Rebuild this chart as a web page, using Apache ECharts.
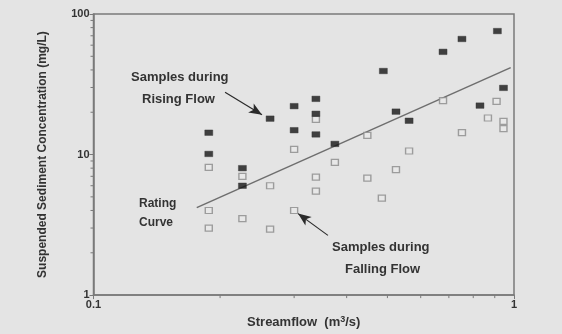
<!DOCTYPE html>
<html><head><meta charset="utf-8">
<script src="https://cdn.jsdelivr.net/npm/echarts@6/dist/echarts.min.js"></script>
<style>html,body{margin:0;padding:0;background:#e4e4e4;}#c{width:562px;height:334px;}</style>
</head><body><div id="c"></div>
<script>
// Samples during rising flow (filled squares): [streamflow m3/s, concentration mg/L]
const risingFlow = [
  [0.188,14.3],[0.188,10.1],[0.226,8.0],[0.226,6.0],[0.263,18.0],
  [0.300,22.1],[0.300,14.9],[0.338,24.9],[0.338,19.5],[0.338,13.9],
  [0.375,11.9],[0.489,39.3],[0.524,20.2],[0.563,17.4],[0.678,53.8],
  [0.752,66.4],[0.830,22.3],[0.913,75.6],[0.944,29.8]
];
// Samples during falling flow (open squares)
const fallingFlow = [
  [0.188,8.1],[0.188,4.0],[0.188,3.0],[0.226,7.0],[0.226,3.5],
  [0.263,6.0],[0.263,2.95],[0.300,10.9],[0.300,4.0],[0.338,17.8],
  [0.338,6.9],[0.338,5.5],[0.375,8.8],[0.448,13.7],[0.448,6.8],
  [0.485,4.9],[0.524,7.8],[0.563,10.6],[0.678,24.2],[0.752,14.3],
  [0.867,18.2],[0.909,23.9],[0.944,17.2],[0.944,15.3]
];
// Rating curve end points
const ratingCurve = [[0.176,4.19],[0.982,41.5]];
// Annotation arrows (data coords): [from, to]
const risingArrow = [[0.2055,27.8],[0.2516,19.2]];
const fallingArrow = [[0.361,2.66],[0.3065,3.80]];
// Minor tick positions
const xMinorTicks = [0.2,0.3,0.4,0.5,0.6,0.7,0.8,0.9];
const yMinorTicks = [2,3,4,5,6,7,8,9,20,30,40,50,60,70,80,90];

const ink = '#333';
const axisCol = '#7a7a7a';
const tickData = xMinorTicks.map(v => [v, 1, 0]).concat(yMinorTicks.map(v => [0.1, v, 1]));

const chart = echarts.init(document.getElementById('c'));
chart.setOption({
  backgroundColor: '#e4e4e4',
  animation: false,
  grid: { left: 93.5, right: 48, top: 14, bottom: 35, show: true, borderColor: axisCol, borderWidth: 1.5, backgroundColor: 'transparent' },
  xAxis: {
    type: 'log', logBase: 10, min: 0.1, max: 1,
    name: '{a|Streamflow  (m}{s|3}{a|/s)}', nameLocation: 'middle', nameGap: 18,
    nameTextStyle: { rich: { a: { fontSize: 13, fontFamily: 'Liberation Sans', fontWeight: 'bold', color: ink }, s: { fontSize: 9, fontFamily: 'Liberation Sans', fontWeight: 'bold', color: ink, verticalAlign: 'top', padding:[0,0,6,0] } } },
    axisLine: { lineStyle: { color: axisCol, width: 1.5 } },
    axisTick: { show: true, length: 4, lineStyle: { color: axisCol } },
    splitLine: { show: false },
    axisLabel: { color: ink, fontSize: 11, fontWeight: 'bold', fontFamily: 'Liberation Sans', margin: 4, formatter: v => (Math.abs(v-0.1)<1e-9 ? '0.1' : String(v)) }
  },
  yAxis: {
    type: 'log', logBase: 10, min: 1, max: 100,
    name: 'Suspended Sediment Concentration (mg/L)', nameLocation: 'middle', nameGap: 45,
    nameTextStyle: { fontSize: 12, fontFamily: 'Liberation Sans', fontWeight: 'bold', color: ink },
    axisLine: { lineStyle: { color: axisCol, width: 1.5 } },
    axisTick: { show: true, length: 4, lineStyle: { color: axisCol } },
    splitLine: { show: false },
    axisLabel: { color: ink, fontSize: 11, fontWeight: 'bold', fontFamily: 'Liberation Sans', margin: 4 }
  },
  series: [
    {
      type: 'custom', silent: true, clip: false, z: 1,
      data: tickData,
      renderItem: (params, api) => {
        const p = api.coord([api.value(0), api.value(1)]);
        const vertical = api.value(2) === 0;
        return { type: 'line', shape: vertical ? { x1: p[0], y1: p[1], x2: p[0], y2: p[1] + 3 } : { x1: p[0] - 3, y1: p[1], x2: p[0], y2: p[1] },
          style: { stroke: axisCol, lineWidth: 1 } };
      }
    },
    {
      type: 'line', data: ratingCurve, symbol: 'none', z: 2,
      lineStyle: { color: '#6e6e6e', width: 1.5 }
    },
    {
      name: 'Falling', type: 'scatter', data: fallingFlow, symbol: 'rect', symbolSize: [7, 6], z: 3,
      itemStyle: { color: '#e8e8e8', borderColor: '#8a8a8a', borderWidth: 1.3 }
    },
    {
      name: 'Rising', type: 'scatter', data: risingFlow, symbol: 'rect', symbolSize: [8, 5.5], z: 4,
      itemStyle: { color: '#151515', borderColor: '#333', borderWidth: 0.5 }
    },
    {
      type: 'line', data: [], z: 5,
      markLine: {
        silent: true, animation: false,
        symbol: ['none', 'arrow'], symbolSize: [8, 13],
        lineStyle: { color: '#2a2a2a', width: 1.2, type: 'solid' },
        label: { show: false },
        data: [
          [{ coord: risingArrow[0] }, { coord: risingArrow[1] }],
          [{ coord: fallingArrow[0] }, { coord: fallingArrow[1] }]
        ]
      }
    }
  ],
  graphic: [
    { type: 'text', left: 131, top: 71, style: { text: 'Samples during', font: 'bold 13px "Liberation Sans"', fill: ink } },
    { type: 'text', left: 142, top: 93, style: { text: 'Rising Flow', font: 'bold 13px "Liberation Sans"', fill: ink } },
    { type: 'text', left: 139, top: 198, style: { text: 'Rating', font: 'bold 12px "Liberation Sans"', fill: ink } },
    { type: 'text', left: 139, top: 217, style: { text: 'Curve', font: 'bold 12px "Liberation Sans"', fill: ink } },
    { type: 'text', left: 332, top: 241, style: { text: 'Samples during', font: 'bold 13px "Liberation Sans"', fill: ink } },
    { type: 'text', left: 345, top: 263, style: { text: 'Falling Flow', font: 'bold 13px "Liberation Sans"', fill: ink } }
  ]
});
</script></body></html>
